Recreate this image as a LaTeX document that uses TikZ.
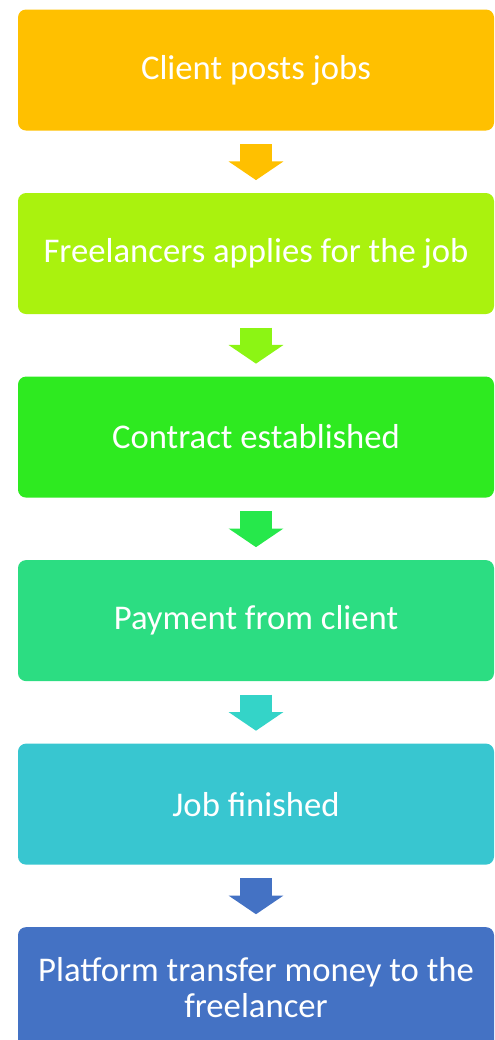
\documentclass[tikz,border=0pt]{standalone}
\usepackage{fontspec}
\setmainfont{Carlito}
\usetikzlibrary{positioning,arrows.meta}

\definecolor{gold}{RGB}{255,192,0}
\definecolor{lime}{RGB}{170,242,14}
\definecolor{limearr}{RGB}{140,245,20}
\definecolor{green}{RGB}{46,234,32}
\definecolor{greenarr}{RGB}{38,232,75}
\definecolor{mint}{RGB}{44,221,130}
\definecolor{mintarr}{RGB}{52,212,200}
\definecolor{teal}{RGB}{56,198,208}
\definecolor{blue}{RGB}{68,114,196}

\tikzset{
  stage/.style={rectangle, rounded corners=6pt, minimum width=357pt, minimum height=90.75pt,
    inner sep=0pt, align=center, text=white, font=\fontsize{26}{26.5}\selectfont},
  flow/.style={line width=24pt, -{Triangle[width=40.5pt,length=14pt]},
    shorten <=10pt, shorten >=9.5pt}
}

\begin{document}
\begin{tikzpicture}[x=0.75pt,y=0.75pt,node distance=46.5pt]
    \useasboundingbox (0,0) rectangle (495,-1040);

    % stages
    \node[stage, fill=gold] (post) at (256,-70) {Client posts jobs};
    \node[stage, fill=lime, below=of post] (apply) {Freelancers applies for the job};
    \node[stage, fill=green, below=of apply] (contract) {Contract established};
    \node[stage, fill=mint, below=of contract] (pay) {Payment from client};
    \node[stage, fill=teal, below=of pay] (finish) {Job finished};
    \node[stage, fill=blue, below=of finish] (transfer) {Platform transfer money to the\\freelancer};

    % arrows between stages
    \draw[flow, gold] (post) -- (apply);
    \draw[flow, limearr] (apply) -- (contract);
    \draw[flow, greenarr] (contract) -- (pay);
    \draw[flow, mintarr] (pay) -- (finish);
    \draw[flow, blue] (finish) -- (transfer);

\end{tikzpicture}
\end{document}
